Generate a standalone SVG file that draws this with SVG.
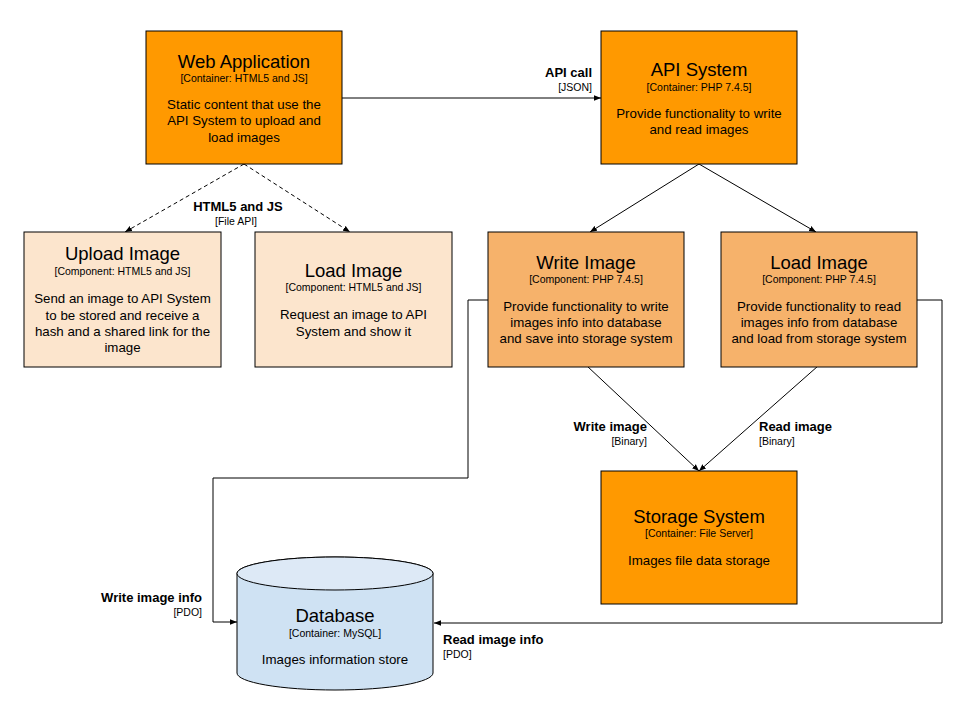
<svg xmlns="http://www.w3.org/2000/svg" width="960" height="720" viewBox="0 0 960 720">
<defs>
<style>
text{font-family:"Liberation Sans",Arial,sans-serif;fill:#000}
.box{stroke:#000;stroke-width:1}
.orange{fill:#FF9900}
.peach{fill:#FCE5CD}
.php{fill:#F6B26B}
.db{fill:#CFE2F3}
.t{font-size:18.5px;text-anchor:middle}
.s{font-size:10.5px;text-anchor:middle}
.d{font-size:13.3px;text-anchor:middle}
.lb{font-size:13px;font-weight:bold}
.ls{font-size:10.5px}
.r{text-anchor:end}
.m{text-anchor:middle}
.c{fill:none;stroke:#000;stroke-width:1}
.dash{stroke-dasharray:4 3}
</style>
<marker id="ah" viewBox="0 0 10 10" refX="10" refY="5" markerWidth="7" markerHeight="7" markerUnits="userSpaceOnUse" orient="auto">
<path d="M0,1 L10,5 L0,9 z" fill="#000"/>
</marker>
</defs>
<rect width="960" height="720" fill="#fff"/>

<g id="connectors">
<path class="c" d="M342,98 H601" marker-end="url(#ah)"/>
<path class="c dash" d="M244,164 L125,232" marker-end="url(#ah)"/>
<path class="c dash" d="M244,164 L350,232" marker-end="url(#ah)"/>
<path class="c" d="M699,164 L590,232" marker-end="url(#ah)"/>
<path class="c" d="M699,164 L816,232" marker-end="url(#ah)"/>
<path class="c" d="M587,366 L699,471" marker-end="url(#ah)"/>
<path class="c" d="M818,366 L699,471" marker-end="url(#ah)"/>
<path class="c" d="M488,300 H468 V478 H213 V622 H237" marker-end="url(#ah)"/>
<path class="c" d="M917,300 H942 V623 H434" marker-end="url(#ah)"/>
<text class="lb r" x="592" y="77">API call</text>
<text class="ls r" x="592" y="91">[JSON]</text>
<text class="lb m" x="238" y="211">HTML5 and JS</text>
<text class="ls m" x="236" y="225">[File API]</text>
<text class="lb r" x="647" y="431">Write image</text>
<text class="ls r" x="647" y="445">[Binary]</text>
<text class="lb" x="759" y="431">Read image</text>
<text class="ls" x="759" y="445">[Binary]</text>
<text class="lb r" x="202" y="602">Write image info</text>
<text class="ls r" x="202" y="616">[PDO]</text>
<text class="lb" x="443" y="644">Read image info</text>
<text class="ls" x="443" y="658">[PDO]</text>
</g>

<g id="web-application">
<rect class="box orange" x="146" y="31" width="196" height="133"/>
<text class="t" x="244" y="68">Web Application</text>
<text class="s" x="244" y="82">[Container: HTML5 and JS]</text>
<text class="d" x="244" y="109">Static content that use the</text>
<text class="d" x="244" y="125">API System to upload and</text>
<text class="d" x="244" y="142">load images</text>
</g>

<g id="api-system">
<rect class="box orange" x="601" y="31" width="196" height="133"/>
<text class="t" x="699" y="76">API System</text>
<text class="s" x="699" y="91">[Container: PHP 7.4.5]</text>
<text class="d" x="699" y="118">Provide functionality to write</text>
<text class="d" x="699" y="134">and read images</text>
</g>

<g id="upload-image">
<rect class="box peach" x="24" y="232" width="197" height="135"/>
<text class="t" x="122.5" y="260">Upload Image</text>
<text class="s" x="122.5" y="275">[Component: HTML5 and JS]</text>
<text class="d" x="122.5" y="303">Send an image to API System</text>
<text class="d" x="122.5" y="320">to be stored and receive a</text>
<text class="d" x="122.5" y="336">hash and a shared link for the</text>
<text class="d" x="122.5" y="352">image</text>
</g>

<g id="load-image-web">
<rect class="box peach" x="255" y="232" width="197" height="135"/>
<text class="t" x="353.5" y="277">Load Image</text>
<text class="s" x="353.5" y="291">[Component: HTML5 and JS]</text>
<text class="d" x="353.5" y="319">Request an image to API</text>
<text class="d" x="353.5" y="336">System and show it</text>
</g>

<g id="write-image">
<rect class="box php" x="488" y="232" width="196" height="135"/>
<text class="t" x="586" y="269">Write Image</text>
<text class="s" x="586" y="283">[Component: PHP 7.4.5]</text>
<text class="d" x="586" y="311">Provide functionality to write</text>
<text class="d" x="586" y="327">images info into database</text>
<text class="d" x="586" y="343">and save into storage system</text>
</g>

<g id="load-image-php">
<rect class="box php" x="721" y="232" width="196" height="135"/>
<text class="t" x="819" y="269">Load Image</text>
<text class="s" x="819" y="283">[Component: PHP 7.4.5]</text>
<text class="d" x="819" y="311">Provide functionality to read</text>
<text class="d" x="819" y="327">images info from database</text>
<text class="d" x="819" y="343">and load from storage system</text>
</g>

<g id="storage-system">
<rect class="box orange" x="601" y="471" width="196" height="133"/>
<text class="t" x="699" y="523">Storage System</text>
<text class="s" x="699" y="537">[Container: File Server]</text>
<text class="d" x="699" y="565">Images file data storage</text>
</g>

<g id="database">
<path class="box db" d="M237,573.5 V673 A98,17 0 0 0 433,673 V573.5 A98,16.5 0 0 0 237,573.5 z"/>
<ellipse class="box" cx="335" cy="573.5" rx="98" ry="16.5" fill="#DDE9F6"/>
<text class="t" x="335" y="622">Database</text>
<text class="s" x="335" y="637">[Container: MySQL]</text>
<text class="d" x="335" y="664">Images information store</text>
</g>
</svg>
